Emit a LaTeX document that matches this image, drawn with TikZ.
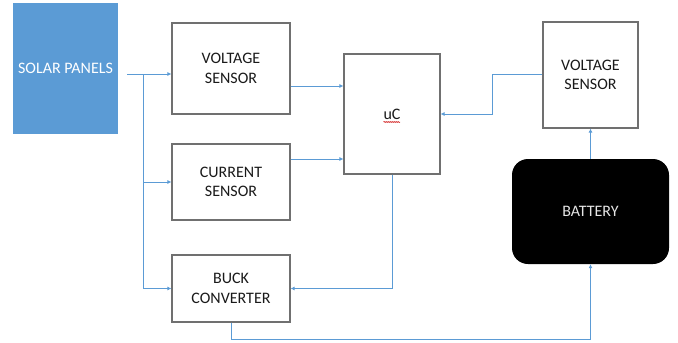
\documentclass[tikz,border=0pt]{standalone}
\usepackage{fontspec}
\setmainfont{Carlito}
\usetikzlibrary{arrows.meta,decorations.pathmorphing}
\definecolor{lineblue}{HTML}{5B9BD5}
\definecolor{panelblue}{HTML}{5B9BD5}
\definecolor{boxgray}{HTML}{707070}
\definecolor{txt}{HTML}{1A1A1A}
\begin{document}
\begin{tikzpicture}[x=1pt,y=-1pt,
  box/.style={draw=boxgray,line width=1.1pt,fill=white,align=center,text=txt,
    font=\fontsize{16}{19.5}\selectfont,inner sep=0pt},
  conn/.style={draw=lineblue,line width=0.9pt},
  arr/.style={conn,-{Latex[length=4pt,width=4pt]}}]
\useasboundingbox (0,0) rectangle (678,343);
\node[fill=panelblue,minimum width=105pt,minimum height=131pt,inner sep=0pt,
  text=white,font=\fontsize{16}{19.5}\selectfont] (solar) at (65.5,68.5) {SOLAR PANELS};
\node[box,minimum width=118pt,minimum height=91pt] (vs1) at (231,68.5) {VOLTAGE\\SENSOR};
\node[box,minimum width=118pt,minimum height=76pt] (cs) at (231,182) {CURRENT\\SENSOR};
\node[box,minimum width=118pt,minimum height=67pt] (buck) at (231,288.5) {BUCK\\CONVERTER};
\node[box,minimum width=96pt,minimum height=120pt] (uc) at (392,114) {uC};
\node[box,minimum width=95pt,minimum height=106pt] (vs2) at (590.5,75) {VOLTAGE\\SENSOR};
\node[fill=black,rounded corners=16pt,minimum width=157pt,minimum height=105pt,inner sep=0pt,
  text=black!10,font=\fontsize{16}{19.5}\selectfont] (bat) at (590.5,211.5) {BATTERY};
% spellcheck squiggle under uC
\draw[red!80!black,line width=0.5pt,decorate,decoration={snake,amplitude=0.6pt,segment length=2pt}]
  (383.5,122) -- (400,122);
% connectors
\coordinate (s0) at (127,74);
\coordinate (j) at (143,74);
\draw[arr] (s0) -- (vs1.west |- s0);
\draw[arr] (j) |- (buck.west);
\draw[arr] (j |- cs.west) -- (cs.west);
\draw[arr] (vs1.east |- 0,86) -- (uc.west |- 0,86);
\draw[arr] (cs.east |- 0,159) -- (uc.west |- 0,159);
\draw[arr] (uc.south) |- (buck.east);
\draw[arr] (vs2.west |- 0,74) -- (492,74) |- (uc.east);
\draw[arr] (bat.north) -- (vs2.south);
\draw[arr] (buck.south) -- (231,339) -| (bat.south);
\end{tikzpicture}
\end{document}
